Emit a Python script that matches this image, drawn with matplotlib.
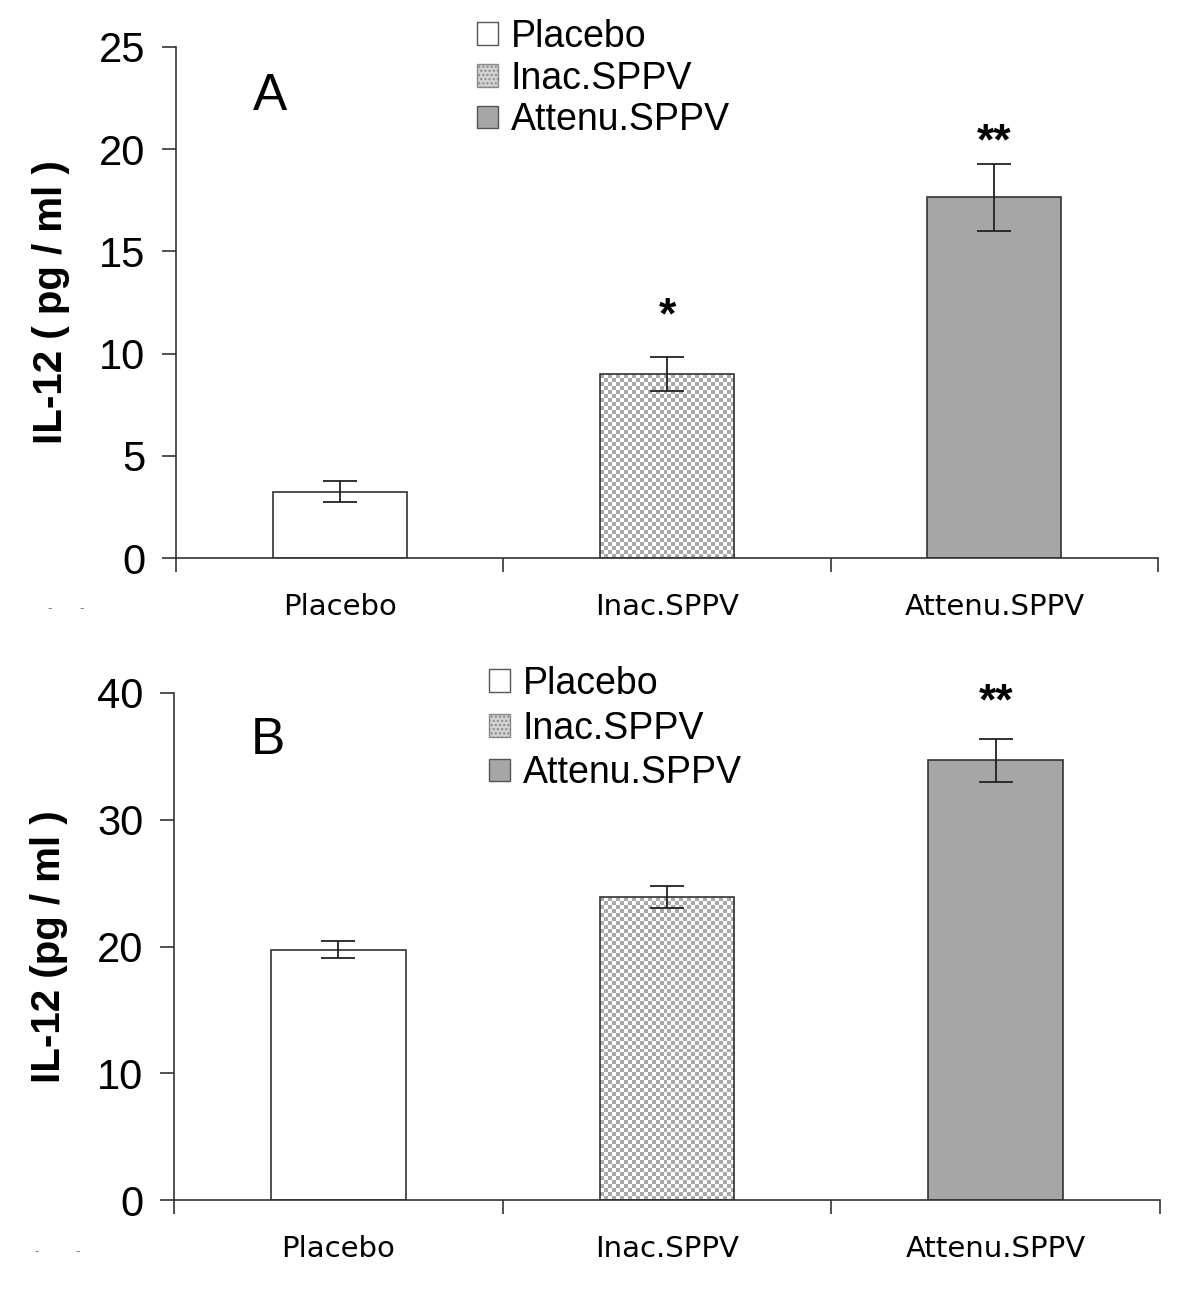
import numpy as np
import matplotlib.pyplot as plt
from matplotlib.patches import Patch
from matplotlib.colors import ListedColormap

plt.rcParams['font.family'] = ['Liberation Sans', 'DejaVu Sans']

groups = ['Placebo', 'Inac.SPPV', 'Attenu.SPPV']

# panel A
vals_a = [3.25, 9.0, 17.65]
err_a = [0.5, 0.83, 1.65]
stars_a = ['', '*', '**']
star_y_a = [0, 11.8, 20.3]

# panel B
vals_b = [19.75, 23.9, 34.7]
err_b = [0.65, 0.9, 1.7]
stars_b = ['', '', '**']
star_y_b = [0, 0, 39.2]

colors = ['white', 'none', '#a6a6a6']
edge = '#333333'

fig = plt.figure(figsize=(12, 13.01), dpi=100)


def checker_fill(ax, rect, cell=4.0):
    # checkerboard fill for the Inac bar, clipped to the bar
    fig.canvas.draw()
    x0, y0 = rect.get_x(), rect.get_y()
    x1, y1 = x0 + rect.get_width(), y0 + rect.get_height()
    p0 = ax.transData.transform((x0, y0))
    p1 = ax.transData.transform((x1, y1))
    nx = max(1, int(round(abs(p1[0] - p0[0]) / cell)))
    ny = max(1, int(round(abs(p1[1] - p0[1]) / cell)))
    board = (np.add.outer(np.arange(ny), np.arange(nx)) % 2).astype(float)
    ax.imshow(board, cmap=ListedColormap(['white', '#a9a9a9']),
              extent=(x0, x1, y0, y1), aspect='auto', interpolation='nearest',
              zorder=1, clip_path=rect, origin='lower')


def panel(rect, vals, errs, ymax, ystep, stars, star_y, letter, letter_xy,
          ylabel, leg_xy, leg_space):
    ax = fig.add_axes(rect)
    x = np.arange(len(groups))
    bars = ax.bar(x, vals, width=0.41, color=colors, edgecolor=edge,
                  linewidth=1.2, zorder=2)
    ax.errorbar(x, vals, yerr=errs, fmt='none', ecolor='#222222',
                elinewidth=1.3, capsize=12, capthick=1.3, zorder=3)
    ax.set_xlim(-0.5, 2.5)
    ax.set_ylim(0, ymax)
    ax.set_yticks(np.arange(0, ymax + 0.1, ystep))
    ax.set_xticks([-0.5, 0.5, 1.5, 2.5])
    ax.set_xticklabels([])
    ax.set_xticks(x, minor=True)
    ax.set_xticklabels(groups, minor=True, family='DejaVu Sans', fontsize=21)
    ax.tick_params(axis='x', which='major', length=10, width=1.2, color='#333333')
    ax.tick_params(axis='x', which='minor', length=0, pad=25)
    ax.tick_params(axis='y', length=10, width=1.2, color='#333333',
                   labelsize=30, pad=12)
    for s in ['top', 'right']:
        ax.spines[s].set_visible(False)
    for s in ['left', 'bottom']:
        ax.spines[s].set_linewidth(1.2)
        ax.spines[s].set_color('#333333')
    ax.set_ylabel(ylabel, fontsize=29, fontweight='bold')
    ax.yaxis.set_label_coords(-0.108, 0.5)

    checker_fill(ax, bars[1])

    for xi, s, sy in zip(x, stars, star_y):
        if s:
            ax.text(xi, sy, s, ha='center', va='center', fontsize=32,
                    fontweight='bold')

    fig.text(letter_xy[0] / 1200, 1 - letter_xy[1] / 1301, letter,
             fontsize=37, ha='center', va='center')

    handles = [Patch(facecolor='white', edgecolor='#555555', linewidth=1),
               Patch(facecolor='#d2d2d2', edgecolor='#888888', linewidth=1,
                     hatch='....'),
               Patch(facecolor='#a6a6a6', edgecolor='#555555', linewidth=1)]
    ax.legend(handles, groups, loc='upper left',
              bbox_to_anchor=(leg_xy[0] / 1200, 1 - leg_xy[1] / 1301),
              bbox_transform=fig.transFigure, frameon=False, fontsize=27,
              handlelength=0.55, handleheight=0.55, handletextpad=0.35,
              labelspacing=leg_space, borderpad=0, borderaxespad=0)
    return ax


panel([176 / 1200, 1 - 558 / 1301, 982 / 1200, 511 / 1301], vals_a, err_a,
      25, 5, stars_a, star_y_a, 'A', (270, 97), 'IL-12 ( pg / ml )',
      (477, 19), 0.15)
panel([174 / 1200, 1 - 1200 / 1301, 986 / 1200, 507 / 1301], vals_b, err_b,
      40, 10, stars_b, star_y_b, 'B', (268, 740), 'IL-12 (pg / ml )',
      (489, 666), 0.23)

# faint stray dashes in the original scan
for xx, yy in [(50, 608), (82, 608), (37, 1251), (78, 1251)]:
    fig.text(xx / 1200, 1 - yy / 1301, '-', fontsize=10, color='#888888',
             ha='center', va='center')

fig.savefig('out.png', dpi=100)
